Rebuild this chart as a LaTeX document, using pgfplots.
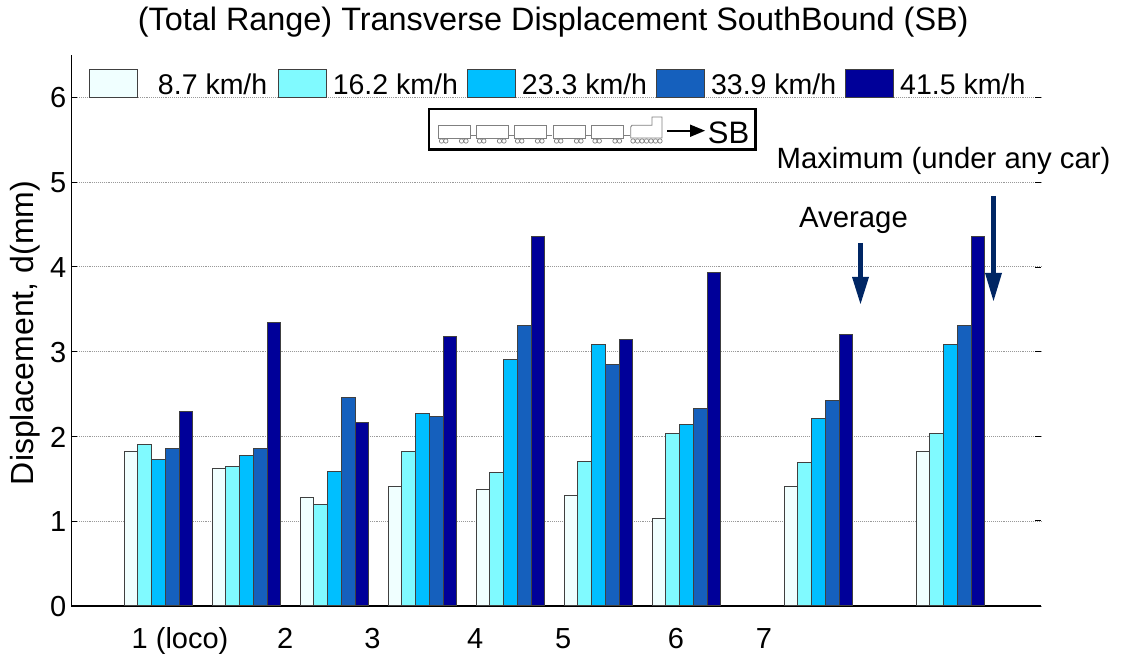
\documentclass[border=0pt]{standalone}
\usepackage{fontspec}
\setmainfont{Liberation Sans}
\usepackage{pgfplots}
\pgfplotsset{compat=1.18}
\usepackage{pgfplotstable}
\definecolor{c1}{RGB}{240,255,255}
\definecolor{c2}{RGB}{128,250,255}
\definecolor{c3}{RGB}{0,191,255}
\definecolor{c4}{RGB}{21,96,189}
\definecolor{c5}{RGB}{0,0,153}
\definecolor{arr}{RGB}{0,38,100}
\newcommand{\fs}{\fontsize{29}{32}\selectfont}
\newcommand{\ls}{\fontsize{28.5}{32}\selectfont}
\newcommand{\lt}[1]{\raisebox{-2.5pt}{#1}}
\pgfplotstableread{
x s1 s2 s3 s4 s5
1 1.82 1.90 1.73 1.86 2.30
2 1.62 1.64 1.78 1.86 3.34
3 1.28 1.20 1.59 2.46 2.17
4 1.41 1.82 2.27 2.24 3.18
5 1.38 1.58 2.91 3.31 4.36
6 1.30 1.71 3.08 2.85 3.14
7 1.03 2.04 2.14 2.33 3.94
8.5 1.41 1.69 2.21 2.42 3.20
10 1.82 2.04 3.08 3.31 4.36
}\datatable
\begin{document}
\begin{tikzpicture}
\useasboundingbox (-71.5pt,-52pt) rectangle (1050.5pt,606pt);
\begin{axis}[
  at={(0,0)},anchor=south west,
  scale only axis,width=969.5pt,height=551pt,
  xmin=0.0114,xmax=11.0284,ymin=0,ymax=6.5,
  axis x line=bottom,axis y line=left,
  axis line style={-,line width=1.2pt,black},
  clip=false,
  ybar=0pt,bar width=13.7pt,
  ymajorgrids,
  grid style={gray!80,line width=0.9pt,densely dotted},
  ytick={0,1,2,3,4,5,6},
  ytick style={black,line width=1pt},
  tick align=inside,major tick length=6pt,
  xtick={1.245,2.44,3.43,4.6,5.6,6.88,7.88},
  xticklabels={1 (loco),2,3,4,5,6,7},
  xtick style={draw=none},
  xticklabel style={text height=20pt,text depth=6pt,inner sep=0pt,yshift=-22pt},
  tick label style={font=\fs},
  /pgf/number format/assume math mode=true,
  yticklabel style={inner sep=0pt,xshift=-5pt,yshift=-0.5pt},
  ylabel={Displacement, d(mm)},
  ylabel style={font=\fontsize{32}{36}\selectfont,at={(axis description cs:0,0.5)},anchor=center,xshift=-2.5pt,yshift=46pt},
  title={(Total Range) Transverse Displacement SouthBound (SB)},
  title style={font=\fontsize{32.4}{36}\selectfont,at={(axis description cs:0.5,1)},anchor=center,yshift=27pt,xshift=-3pt},
  every axis plot/.append style={draw=black!75,line width=1pt},
  legend columns=5,
  legend style={at={(17.5pt,508pt)},anchor=south west,draw=none,fill=none,inner sep=0pt,outer sep=0pt,
    font=\ls,
    nodes={inner sep=0pt},
    /tikz/every even column/.append style={column sep=9pt},
    /tikz/every odd column/.append style={column sep=6pt}},
  legend image code/.code={\draw[#1] (0pt,-14pt) rectangle (48pt,14pt);},
]
\addplot[fill=c1] table[x=x,y=s1]{\datatable};
\addplot[fill=c2] table[x=x,y=s2]{\datatable};
\addplot[fill=c3] table[x=x,y=s3]{\datatable};
\addplot[fill=c4] table[x=x,y=s4]{\datatable};
\addplot[fill=c5] table[x=x,y=s5]{\datatable};
\addlegendentry{\lt{\hspace{14pt}8.7 km/h\hspace{1.5pt}}}
\addlegendentry{\lt{16.2 km/h}}
\addlegendentry{\lt{23.3 km/h}}
\addlegendentry{\lt{33.9 km/h}}
\addlegendentry{\lt{41.5 km/h}}
\end{axis}
\begin{scope}[x=1pt,y=-1pt,shift={(-71.5pt,606pt)}]
  % right ticks
  \foreach \yy in {98,182.5,267.5,352,436.5,521}{\draw[line width=1pt] (1035,\yy)--(1041,\yy);}
  % direction box
  \draw[line width=2.6pt,fill=white] (429,109) rectangle (755.5,149.5);
  \foreach \cx in {438,476,514,553,591.5}{
    \draw[gray,line width=.9pt] (\cx,125.3) rectangle (\cx+32.3,138);
    \draw[gray,line width=.9pt] (\cx+32.3,135)--(\cx+38,135);
    \foreach \w in {3.5,7.8,23.5,28}{\draw[gray,line width=.7pt] (\cx+\w,141) circle (2.2);}
  }
  \draw[gray,line width=.9pt] (630.7,138)--(630.7,127)--(632,125.3)--(652,125.3)--(652,117)--(662,117)--(662,138)--cycle;
  \foreach \w in {633,637.5,642,646.5,651,655.5,660}{\draw[gray,line width=.7pt] (\w,141) circle (2.2);}
  \draw[line width=2pt] (667,130.7)--(692,130.7);
  \fill (690,124.5)--(705,130.7)--(690,137)--cycle;
  \node[anchor=center,inner sep=0pt,font=\fontsize{31}{34}\selectfont] at (728.5,133) {SB};
  % annotations
  \node[anchor=center,inner sep=0pt,font=\fontsize{29.3}{32}\selectfont] at (943.5,161) {Maximum (under any car)};
  \node[anchor=center,inner sep=0pt,font=\fontsize{29.3}{32}\selectfont] at (853.5,220) {Average};
  \draw[arr,line width=4.5pt] (860.5,243)--(860.5,280);
  \fill[arr] (852,277)--(869,277)--(860.5,304)--cycle;
  \draw[arr,line width=4.5pt] (993.5,196)--(993.5,276);
  \fill[arr] (985,273)--(1002,273)--(993.5,301)--cycle;
\end{scope}
\end{tikzpicture}
\end{document}
